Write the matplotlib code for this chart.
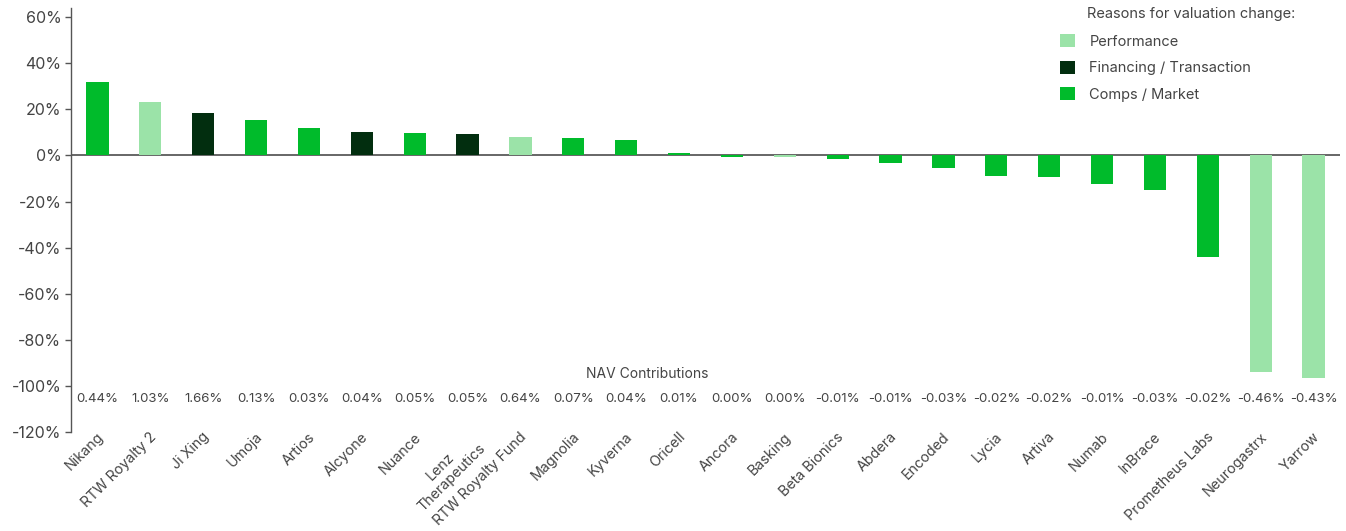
import matplotlib
matplotlib.use("Agg")
import matplotlib.pyplot as plt
import matplotlib.transforms as mtransforms
from matplotlib.patches import Patch

plt.rcParams['font.family'] = ['Inter', 'DejaVu Sans']

companies = ["Nikang", "RTW Royalty 2", "Ji Xing", "Umoja", "Artios", "Alcyone",
             "Nuance", "Lenz\nTherapeutics", "RTW Royalty Fund", "Magnolia", "Kyverna",
             "Oricell", "Ancora", "Basking", "Beta Bionics", "Abdera", "Encoded",
             "Lycia", "Artiva", "Numab", "InBrace", "Prometheus Labs", "Neurogastrx",
             "Yarrow"]
valuation_change = [31.9, 23.2, 18.4, 15.3, 11.9, 10.1, 9.7, 9.3, 8.0, 7.5, 6.6,
                    1.2, -0.8, -0.6, -1.5, -3.3, -5.4, -8.8, -9.3, -12.4, -15.0,
                    -44.0, -94.0, -96.7]
reasons = ["Comps", "Performance", "Financing", "Comps", "Comps", "Financing",
           "Comps", "Financing", "Performance", "Comps", "Comps", "Comps", "Comps",
           "Performance", "Comps", "Comps", "Comps", "Comps", "Comps", "Comps",
           "Comps", "Comps", "Performance", "Performance"]
nav_contrib = ["0.44%", "1.03%", "1.66%", "0.13%", "0.03%", "0.04%", "0.05%", "0.05%",
               "0.64%", "0.07%", "0.04%", "0.01%", "0.00%", "0.00%", "-0.01%", "-0.01%",
               "-0.03%", "-0.02%", "-0.02%", "-0.01%", "-0.03%", "-0.02%", "-0.46%",
               "-0.43%"]
y_ticks = [60, 40, 20, 0, -20, -40, -60, -80, -100, -120]

colors = {"Performance": "#9be3a8", "Financing": "#022e0f", "Comps": "#00bb2b"}
legend_labels = {"Performance": "Performance", "Financing": "Financing / Transaction",
                 "Comps": "Comps / Market"}

W, H = 1346, 531
fig = plt.figure(figsize=(W / 100, H / 100), dpi=100)
ax = fig.add_axes([71 / W, 1 - 432 / H, (1340 - 71) / W, (432 - 8) / H])

x = list(range(len(companies)))
ax.bar(x, valuation_change, width=0.42, color=[colors[r] for r in reasons], zorder=3)
ax.axhline(0, color="#666666", lw=1.4, zorder=2)

ax.set_xlim(-0.5, len(companies) - 0.5)
ax.set_ylim(-120, 64)
ax.set_yticks(y_ticks)
ax.set_yticklabels([f"{t}%" for t in y_ticks])

for s in ["top", "right", "bottom"]:
    ax.spines[s].set_visible(False)
ax.spines["left"].set_color("#555555")
ax.spines["left"].set_linewidth(1.0)
ax.tick_params(axis="y", colors="#555555", length=4, width=1, labelsize=11.5,
               labelcolor="#444444", pad=3)
ax.tick_params(axis="x", length=0, pad=2)

ax.set_xticks(x)
ax.set_xticklabels(companies, rotation=45, ha="right", va="top",
                   rotation_mode="anchor", fontsize=10.3, color="#444444",
                   multialignment="center")
offset = mtransforms.ScaledTranslation(-1 / 100, 5 / 100, fig.dpi_scale_trans)
for lbl in ax.get_xticklabels():
    lbl.set_transform(lbl.get_transform() + offset)

for xi, v in zip(x, nav_contrib):
    ax.text(xi, -105.6, v, ha="center", va="center", fontsize=9.5, color="#444444")
ax.text(10.4, -94.8, "NAV Contributions", ha="center", va="center", fontsize=10,
        color="#444444")

handles = [Patch(facecolor=colors[k], label=legend_labels[k])
           for k in ["Performance", "Financing", "Comps"]]
leg = ax.legend(handles=handles, loc="upper left", frameon=False,
                bbox_to_anchor=((1047 - 71) / (1340 - 71), 1 - (21 - 8) / 424),
                handlelength=1.0, handleheight=1.0, handletextpad=1.0,
                labelspacing=0.82, fontsize=10.5, labelcolor="#444444")
fig.text(1087 / W, 1 - 14 / H, "Reasons for valuation change:", ha="left",
         va="center", fontsize=10.5, color="#444444")

fig.savefig("out.png", dpi=100)
